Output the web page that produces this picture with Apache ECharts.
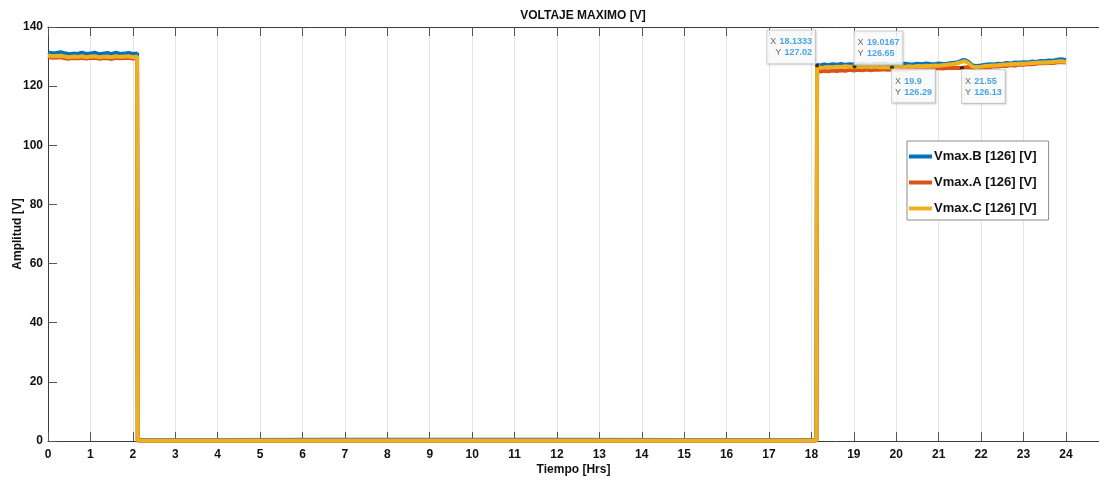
<!DOCTYPE html>
<html>
<head>
<meta charset="utf-8">
<script src="https://cdn.jsdelivr.net/npm/echarts@6/dist/echarts.min.js"></script>
<style>
  html, body { margin: 0; padding: 0; background: #ffffff; }
  #chart { width: 1099px; height: 481px; }
</style>
</head>
<body>
<div id="chart"></div>
<script>
// Time stamps in hours (shared by the three phases)
const tiempo = [
  0, 0.1, 0.2, 0.3, 0.4, 0.5, 0.6, 0.7, 0.8, 0.9, 1.0, 1.1, 1.2, 1.3, 1.4, 1.5, 1.6, 1.7, 1.8, 1.9, 2.0, 2.1,
  2.1167, 4, 6.5, 9, 12, 15, 18.1167,
  18.1333, 18.2, 18.3, 18.4, 18.5, 18.6, 18.7, 18.8, 18.9, 19.0, 19.0167, 19.1, 19.2, 19.3, 19.4, 19.5, 19.6, 19.7, 19.8, 19.9,
  20.0, 20.1, 20.2, 20.3, 20.4, 20.5, 20.6, 20.7, 20.8, 20.9, 21.0, 21.1, 21.2, 21.3, 21.4, 21.5, 21.55, 21.6, 21.7, 21.8, 21.9,
  22.0, 22.1, 22.2, 22.3, 22.4, 22.5, 22.6, 22.7, 22.8, 22.9, 23.0, 23.1, 23.2, 23.3, 23.4, 23.5, 23.6, 23.7, 23.8, 23.9, 24.0
];

// Phase B maximum voltage [V]
const vmaxB = [
  131.4, 131.1, 131.2, 131.5, 131.1, 130.8, 131.0, 130.9, 131.3, 130.9, 131.0, 131.3, 130.8, 131.0, 131.2, 130.8, 131.3, 130.9, 131.0, 131.2, 130.9, 131.0,
  0.35, 0.35, 0.45, 0.4, 0.4, 0.35, 0.35,
  127.2, 127.0, 127.3, 127.1, 127.4, 127.2, 127.5, 127.2, 127.4, 127.3, 127.3, 127.2, 127.5, 127.3, 127.2, 127.5, 127.3, 127.6, 127.3, 127.2,
  127.4, 127.3, 127.6, 127.4, 127.3, 127.6, 127.4, 127.7, 127.5, 127.4, 127.7, 127.5, 127.6, 127.8, 127.9, 128.4, 128.7, 128.9, 128.2, 127.0, 126.8,
  127.0, 127.2, 127.4, 127.3, 127.6, 127.5, 127.8, 127.7, 128.0, 127.9, 128.1, 128.0, 128.3, 128.2, 128.5, 128.4, 128.7, 128.6, 128.9, 129.1, 128.8
];

// Phase A maximum voltage [V]
const vmaxA = [
  129.9, 129.6, 129.7, 129.8, 129.4, 129.3, 129.5, 129.4, 129.6, 129.3, 129.5, 129.6, 129.3, 129.4, 129.5, 129.2, 129.6, 129.4, 129.5, 129.6, 129.3, 129.5,
  0.05, 0.05, 0.05, 0.05, 0.05, 0.05, 0.05,
  126.0, 124.9, 125.2, 125.0, 125.3, 125.1, 125.4, 125.2, 125.5, 125.3, 125.3, 125.5, 125.4, 125.6, 125.4, 125.6, 125.5, 125.7, 125.5, 125.6,
  125.7, 125.6, 125.8, 125.7, 125.9, 125.8, 126.0, 125.9, 126.1, 126.0, 126.1, 126.0, 126.2, 126.1, 126.2, 126.1, 126.13, 126.3, 126.4, 126.0, 126.2,
  126.3, 126.5, 126.4, 126.7, 126.6, 126.9, 126.8, 127.1, 127.0, 127.3, 127.2, 127.5, 127.4, 127.6, 127.8, 127.7, 127.9, 127.8, 128.1, 128.2, 128.0
];

// Phase C maximum voltage [V]
const vmaxC = [
  130.4, 130.1, 130.2, 130.3, 130.0, 129.8, 130.0, 129.9, 130.1, 129.8, 130.0, 130.1, 129.8, 129.9, 130.0, 129.8, 130.1, 129.9, 130.0, 130.1, 129.8, 130.0,
  0.15, 0.15, 0.15, 0.15, 0.15, 0.15, 0.15,
  127.02, 126.2, 126.3, 126.5, 126.4, 126.6, 126.5, 126.7, 126.6, 126.6, 126.65, 126.6, 126.5, 126.6, 126.5, 126.6, 126.4, 126.5, 126.4, 126.29,
  126.5, 126.6, 126.5, 126.7, 126.6, 126.8, 126.7, 126.9, 126.8, 127.0, 126.9, 127.1, 127.2, 127.4, 127.6, 128.0, 128.2, 128.5, 127.8, 126.6, 126.5,
  126.6, 126.8, 126.9, 127.0, 127.1, 127.2, 127.3, 127.4, 127.5, 127.6, 127.6, 127.7, 127.8, 127.9, 128.0, 128.0, 128.1, 128.2, 128.3, 128.4, 128.2
];

// Data tips
const tipX = [18.1333, 19.0167, 19.9, 21.55];
const tipY = [127.02, 126.65, 126.29, 126.13];

const seriesNames = ['Vmax.B [126] [V]', 'Vmax.A [126] [V]', 'Vmax.C [126] [V]'];
const xTicks = [0, 24];
const yTicks = [0, 140, 20];

const FONT = "'Liberation Sans', Arial, sans-serif";
const colors = ['#0072BD', '#D95319', '#EDB120'];

const pairs = (vals) => tiempo.map((t, i) => [t, vals[i]]);

// label placement of each tip box around its point
const tipPlacement = [
  { position: [0, 0], align: 'right', verticalAlign: 'bottom' },
  { position: [2, 0], align: 'left', verticalAlign: 'bottom' },
  { position: [2, 4], align: 'left', verticalAlign: 'top' },
  { position: [2, 4], align: 'left', verticalAlign: 'top' }
];

const tipData = tipX.map((x, i) => ({
  value: [x, tipY[i]],
  label: Object.assign({}, tipPlacement[i])
}));

const chart = echarts.init(document.getElementById('chart'), null, { renderer: 'canvas' });

const axisLineStyle = { color: '#3a3a3a', width: 1 };

chart.setOption({
  animation: false,
  backgroundColor: '#ffffff',
  title: {
    text: 'VOLTAJE MAXIMO [V]',
    left: 578,
    top: 5,
    textAlign: 'center',
    textStyle: { fontFamily: FONT, fontWeight: 'bold', fontSize: 12, color: '#111' }
  },
  legend: {
    data: seriesNames,
    orient: 'vertical',
    left: 907,
    top: 141,
    padding: [9, 12, 5, 2],
    itemGap: 13,
    itemWidth: 23,
    itemHeight: 4,
    icon: 'rect',
    borderColor: '#8c8c8c',
    borderWidth: 1,
    backgroundColor: '#ffffff',
    textStyle: { fontFamily: FONT, fontWeight: 'bold', fontSize: 13, color: '#111', padding: [0, 0, 0, -3] }
  },
  grid: { left: 48, right: 0, top: 27, bottom: 40, containLabel: false, outerBoundsMode: 'none' },
  xAxis: [
    {
      type: 'value',
      min: xTicks[0],
      max: 24.78,
      interval: 1,
      name: 'Tiempo [Hrs]',
      nameLocation: 'middle',
      nameGap: 23,
      nameMoveOverlap: false,
      nameTextStyle: { fontFamily: FONT, fontWeight: 'bold', fontSize: 12, color: '#111' },
      axisLine: { show: true, onZero: false, lineStyle: axisLineStyle },
      axisTick: { show: true, inside: true, length: 9, lineStyle: { color: '#555' } },
      axisLabel: {
        fontFamily: FONT, fontWeight: 'bold', fontSize: 12, color: '#111', margin: 8,
        showMaxLabel: false,
        formatter: (v) => (v <= xTicks[1] && Number.isInteger(v)) ? String(v) : ''
      },
      splitLine: { show: true, lineStyle: { color: '#e4e4e4', width: 1 } }
    },
    {
      type: 'value',
      position: 'top',
      min: xTicks[0],
      max: 24.78,
      interval: 1,
      axisLine: { show: true, onZero: false, lineStyle: axisLineStyle },
      axisTick: { show: true, inside: true, length: 9, lineStyle: { color: '#555' } },
      axisLabel: { show: false },
      splitLine: { show: false }
    }
  ],
  yAxis: {
    type: 'value',
    min: yTicks[0],
    max: yTicks[1],
    interval: yTicks[2],
    name: 'Amplitud [V]',
    nameLocation: 'middle',
    nameGap: 24,
    nameMoveOverlap: false,
    nameTextStyle: { fontFamily: FONT, fontWeight: 'bold', fontSize: 12, color: '#111' },
    axisLine: { show: true, onZero: false, lineStyle: axisLineStyle },
    axisTick: { show: true, inside: true, length: 9, lineStyle: { color: '#555' } },
    axisLabel: { fontFamily: FONT, fontWeight: 'bold', fontSize: 12, color: '#111', margin: 5 },
    splitLine: { show: false }
  },
  series: [
    {
      name: seriesNames[0], type: 'line', data: pairs(vmaxB), showSymbol: false, symbol: 'none',
      lineStyle: { color: colors[0], width: 4 }, itemStyle: { color: colors[0] }, z: 2
    },
    {
      name: seriesNames[1], type: 'line', data: pairs(vmaxA), showSymbol: false, symbol: 'none',
      lineStyle: { color: colors[1], width: 4 }, itemStyle: { color: colors[1] }, z: 3
    },
    {
      name: seriesNames[2], type: 'line', data: pairs(vmaxC), showSymbol: false, symbol: 'none',
      lineStyle: { color: colors[2], width: 4 }, itemStyle: { color: colors[2] }, z: 4
    },
    {
      name: 'tips', type: 'scatter', data: tipData, symbol: 'circle', symbolSize: 4, z: 10,
      itemStyle: { color: '#111' },
      label: {
        show: true,
        formatter: (p) => '{k|X} {v|' + p.value[0] + '}\n{k|Y} {v|' + p.value[1] + '}',
        backgroundColor: '#ffffff',
        borderColor: '#c9c9c9',
        borderWidth: 1,
        padding: [6, 3, 5, 3],
        lineHeight: 11,
        shadowColor: 'rgba(0,0,0,0.12)',
        shadowBlur: 2,
        shadowOffsetX: 1,
        shadowOffsetY: 1,
        rich: {
          k: { fontFamily: FONT, fontSize: 9, color: '#444', lineHeight: 11 },
          v: { fontFamily: FONT, fontSize: 9, fontWeight: 'bold', color: '#1c8fe3', lineHeight: 11 }
        }
      }
    }
  ]
});
</script>
</body>
</html>
